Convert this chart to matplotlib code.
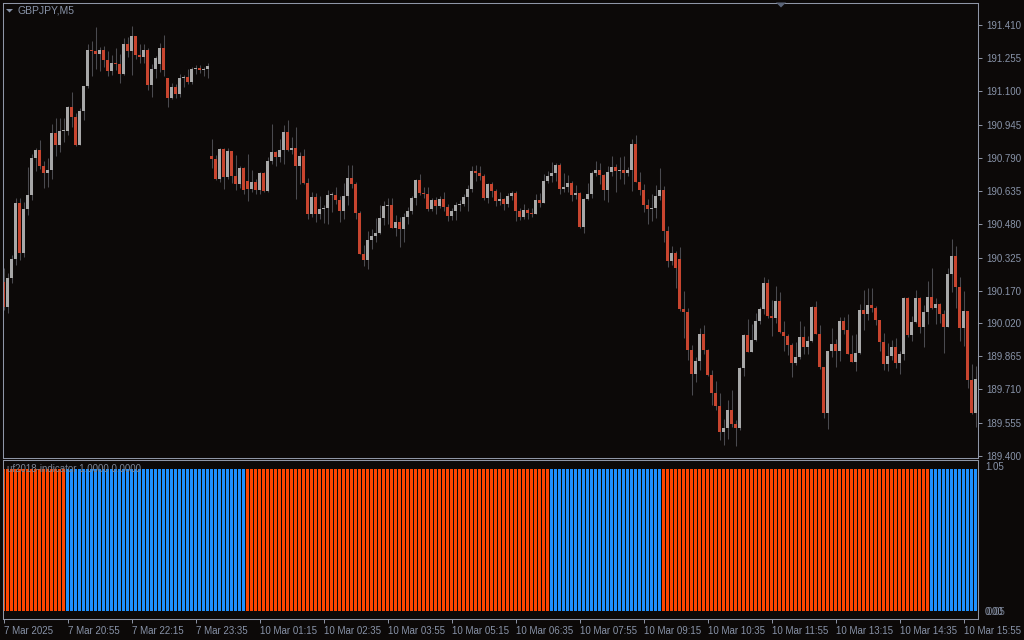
import numpy as np
import matplotlib.pyplot as plt
from matplotlib.patches import Polygon

plt.rcParams['font.family'] = ['Liberation Sans', 'DejaVu Sans']

# GBPJPY M5, 7 Mar 2025 19:35 -> 10 Mar 2025 16:10 (244 bars)
closes = [
    190.096, 190.230, 190.318, 190.580, 190.348, 190.552, 190.617, 190.790, 190.827, 190.752,
    190.720, 190.734, 190.906, 190.850, 190.916, 190.917, 191.028, 190.981, 190.850, 191.009,
    191.126, 191.294, 191.289, 191.275, 191.294, 191.247, 191.196, 191.233, 191.229, 191.182,
    191.322, 191.289, 191.359, 191.270, 191.261, 191.294, 191.130, 191.205, 191.256, 191.303,
    191.200, 191.070, 191.121, 191.088, 191.163, 191.168, 191.144, 191.205, 191.210, 191.200,
    191.205, 191.219, 190.785, 190.692, 190.832, 190.701, 190.822, 190.706, 190.668, 190.743,
    190.640, 190.645, 190.678, 190.640, 190.720, 190.636, 190.776, 190.818, 190.794, 190.827,
    190.911, 190.827, 190.836, 190.752, 190.799, 190.673, 190.528, 190.608, 190.528, 190.552,
    190.554, 190.617, 190.619, 190.594, 190.542, 190.612, 190.696, 190.668, 190.533, 190.342,
    190.314, 190.407, 190.426, 190.440, 190.510, 190.566, 190.570, 190.463, 190.491, 190.458,
    190.514, 190.542, 190.603, 190.687, 190.626, 190.622, 190.552, 190.594, 190.566, 190.598,
    190.561, 190.519, 190.542, 190.570, 190.575, 190.608, 190.645, 190.729, 190.720, 190.706,
    190.603, 190.668, 190.636, 190.589, 190.598, 190.575, 190.612, 190.626, 190.542, 190.514,
    190.547, 190.533, 190.529, 190.594, 190.580, 190.682, 190.706, 190.720, 190.757, 190.645,
    190.654, 190.673, 190.617, 190.626, 190.468, 190.598, 190.622, 190.720, 190.734, 190.710,
    190.640, 190.724, 190.748, 190.729, 190.734, 190.720, 190.734, 190.855, 190.678, 190.640,
    190.570, 190.552, 190.556, 190.612, 190.640, 190.449, 190.309, 190.346, 190.276, 190.085,
    190.071, 189.894, 189.782, 189.842, 189.968, 189.894, 189.777, 189.693, 189.632, 189.511,
    189.530, 189.614, 189.548, 189.530, 189.810, 189.964, 189.884, 189.940, 190.029, 190.085,
    190.206, 190.052, 190.043, 190.122, 189.978, 189.959, 189.917, 189.833, 189.861, 189.954,
    189.908, 189.936, 190.094, 189.968, 189.814, 189.600, 189.889, 189.922, 189.889, 190.029,
    189.987, 189.875, 189.838, 189.880, 190.080, 190.062, 190.104, 190.090, 190.034, 189.931,
    189.828, 189.866, 189.908, 189.833, 189.875, 190.136, 189.964, 190.024, 190.136, 190.001,
    190.071, 190.141, 190.090, 190.108, 190.062, 190.001, 190.248, 190.332, 190.188, 189.996,
    190.076, 189.754, 189.600, 189.758,
]
highs = [
    190.275, 190.252, 190.337, 190.602, 190.602, 190.586, 190.749, 190.807, 190.838, 190.874,
    190.776, 190.791, 190.948, 190.975, 190.975, 190.975, 191.032, 191.098, 190.998, 191.023,
    191.126, 191.322, 191.336, 191.401, 191.308, 191.312, 191.289, 191.270, 191.303, 191.275,
    191.350, 191.354, 191.406, 191.359, 191.322, 191.322, 191.303, 191.228, 191.266, 191.326,
    191.364, 191.163, 191.140, 191.135, 191.182, 191.177, 191.205, 191.214, 191.224, 191.224,
    191.214, 191.233, 190.878, 190.804, 190.836, 190.836, 190.836, 190.822, 190.804, 190.752,
    190.748, 190.808, 190.734, 190.692, 190.724, 190.724, 190.794, 190.948, 190.822, 190.878,
    190.944, 190.967, 190.888, 190.934, 190.818, 190.832, 190.696, 190.631, 190.626, 190.612,
    190.570, 190.640, 190.631, 190.654, 190.612, 190.673, 190.757, 190.757, 190.678, 190.542,
    190.384, 190.449, 190.458, 190.510, 190.570, 190.589, 190.603, 190.603, 190.524, 190.514,
    190.533, 190.561, 190.612, 190.692, 190.715, 190.654, 190.654, 190.603, 190.608, 190.612,
    190.631, 190.575, 190.556, 190.584, 190.594, 190.622, 190.664, 190.752, 190.757, 190.752,
    190.715, 190.673, 190.678, 190.645, 190.631, 190.603, 190.626, 190.636, 190.636, 190.556,
    190.575, 190.556, 190.556, 190.622, 190.626, 190.715, 190.729, 190.771, 190.766, 190.766,
    190.720, 190.710, 190.682, 190.664, 190.631, 190.603, 190.673, 190.729, 190.776, 190.766,
    190.715, 190.752, 190.799, 190.762, 190.794, 190.799, 190.748, 190.878, 190.897, 190.724,
    190.668, 190.598, 190.622, 190.664, 190.743, 190.659, 190.472, 190.379, 190.356, 190.374,
    190.169, 190.090, 189.917, 189.861, 189.996, 190.010, 189.898, 189.800, 189.749, 189.693,
    189.572, 189.660, 189.707, 189.567, 189.814, 189.968, 190.038, 190.015, 190.066, 190.094,
    190.234, 190.225, 190.127, 190.192, 190.164, 190.029, 189.968, 189.926, 189.931, 190.029,
    190.006, 189.959, 190.099, 190.122, 190.010, 189.810, 189.889, 189.996, 189.945, 190.048,
    190.048, 190.062, 189.964, 189.968, 190.108, 190.174, 190.183, 190.183, 190.099, 190.034,
    189.973, 189.926, 189.940, 189.950, 189.889, 190.141, 190.141, 190.052, 190.174, 190.141,
    190.104, 190.216, 190.276, 190.136, 190.113, 190.080, 190.276, 190.412, 190.379, 190.234,
    190.169, 190.057, 189.828, 189.819,
]
lows = [
    190.080, 190.068, 190.208, 190.290, 190.314, 190.329, 190.524, 190.594, 190.730, 190.737,
    190.651, 190.656, 190.693, 190.800, 190.819, 190.866, 190.897, 190.936, 190.846, 190.850,
    190.967, 191.116, 191.172, 191.205, 191.196, 191.214, 191.172, 191.177, 191.200, 191.140,
    191.177, 191.261, 191.177, 191.252, 191.233, 191.233, 191.107, 191.074, 191.163, 191.191,
    191.172, 191.028, 191.065, 191.070, 191.074, 191.121, 191.135, 191.135, 191.182, 191.186,
    191.172, 191.163, 190.743, 190.687, 190.678, 190.645, 190.692, 190.673, 190.640, 190.650,
    190.622, 190.589, 190.631, 190.622, 190.622, 190.631, 190.631, 190.762, 190.752, 190.771,
    190.762, 190.822, 190.808, 190.598, 190.668, 190.668, 190.505, 190.514, 190.491, 190.505,
    190.486, 190.482, 190.538, 190.575, 190.491, 190.505, 190.570, 190.650, 190.505, 190.342,
    190.286, 190.272, 190.365, 190.398, 190.435, 190.477, 190.482, 190.463, 190.426, 190.374,
    190.398, 190.482, 190.528, 190.570, 190.617, 190.603, 190.542, 190.542, 190.528, 190.556,
    190.542, 190.496, 190.500, 190.500, 190.542, 190.566, 190.542, 190.631, 190.682, 190.687,
    190.594, 190.580, 190.608, 190.566, 190.570, 190.547, 190.561, 190.594, 190.496, 190.500,
    190.505, 190.505, 190.514, 190.533, 190.561, 190.580, 190.673, 190.678, 190.682, 190.622,
    190.631, 190.631, 190.589, 190.598, 190.463, 190.440, 190.594, 190.603, 190.706, 190.668,
    190.594, 190.584, 190.706, 190.631, 190.692, 190.668, 190.706, 190.636, 190.678, 190.617,
    190.538, 190.482, 190.496, 190.510, 190.594, 190.398, 190.281, 190.290, 190.183, 190.076,
    189.950, 189.847, 189.684, 189.744, 189.800, 189.875, 189.772, 189.637, 189.614, 189.474,
    189.450, 189.478, 189.534, 189.446, 189.520, 189.772, 189.884, 189.884, 189.936, 190.015,
    190.062, 190.043, 189.959, 190.020, 189.973, 189.889, 189.870, 189.768, 189.824, 189.852,
    189.875, 189.875, 189.931, 189.968, 189.805, 189.576, 189.525, 189.861, 189.814, 189.842,
    189.968, 189.875, 189.838, 189.796, 189.875, 189.987, 190.034, 190.071, 190.010, 189.889,
    189.800, 189.796, 189.847, 189.810, 189.782, 189.847, 189.954, 189.936, 190.020, 189.973,
    189.908, 190.015, 190.085, 190.015, 190.020, 189.880, 190.015, 190.164, 190.090, 189.936,
    189.912, 189.716, 189.595, 189.534,
]
first_open = 190.211
# bars whose open does not equal the previous close (gaps)
gap_opens = {39: 191.228, 41: 191.163, 52: 190.799, 61: 190.682, 169: 190.318}

price_ticks = [191.410, 191.255, 191.100, 190.945, 190.790, 190.635, 190.480,
               190.325, 190.170, 190.020, 189.865, 189.710, 189.555, 189.400]
time_ticks = list(range(0, 244, 16))
time_labels = ['7 Mar 2025', '7 Mar 20:55', '7 Mar 22:15', '7 Mar 23:35',
               '10 Mar 01:15', '10 Mar 02:35', '10 Mar 03:55', '10 Mar 05:15',
               '10 Mar 06:35', '10 Mar 07:55', '10 Mar 09:15', '10 Mar 10:35',
               '10 Mar 11:55', '10 Mar 13:15', '10 Mar 14:35', '10 Mar 15:55']

# uf2018-indicator: runs of up / down signal
signal_states = ['up', 'down', 'up', 'down', 'up', 'down']
signal_lengths = [16, 45, 76, 28, 67, 12]

bg = '#0c0908'
frame = '#8f96a6'
txt = '#8893a8'
bull = '#a8a8a8'
bear = '#c8452f'
wick = '#4a4a4f'
up_col = '#ff4500'
dn_col = '#1e90ff'
fs = 7

closes = np.array(closes)
opens = np.r_[first_open, closes[:-1]]
for i, v in gap_opens.items():
    opens[i] = v
highs = np.maximum(np.array(highs), np.maximum(opens, closes))
lows = np.minimum(np.array(lows), np.minimum(opens, closes))
x = np.arange(len(closes))

fig = plt.figure(figsize=(10.24, 6.4), dpi=100, facecolor=bg)
ax = fig.add_axes([2.5 / 1024, 1 - 458 / 640, 975 / 1024, 455.5 / 640], facecolor=bg)
ax2 = fig.add_axes([2.5 / 1024, 1 - 619 / 640, 975 / 1024, 159 / 640], facecolor=bg)

# candles
ax.vlines(x, lows, highs, color=wick, lw=0.75, zorder=1)
body_col = np.where(closes >= opens, bull, bear)
body_h = np.maximum(np.abs(closes - opens), 0.004)
ax.bar(x, body_h, bottom=np.minimum(opens, closes), width=0.72,
       color=body_col, linewidth=0, zorder=2)

ax.set_xlim(-0.25, 243.5)
ax.set_ylim(189.3897, 191.5153)
ax.yaxis.tick_right()
ax.set_yticks(price_ticks)
ax.set_yticklabels([f'{p:.3f}' for p in price_ticks])
ax.tick_params(axis='y', direction='out', length=3, width=0.7, color=frame,
               labelcolor=txt, labelsize=fs, pad=3)
ax.set_xticks([])

# indicator histogram
sig = np.repeat(signal_states, signal_lengths)
ax2.bar(x, np.ones(len(x)), width=0.7, linewidth=0,
        color=np.where(sig == 'up', up_col, dn_col))
ax2.set_xlim(-0.25, 243.5)
ax2.set_ylim(-0.056, 1.063)
ax2.set_yticks([])
ax2.set_xticks(time_ticks)
ax2.set_xticklabels(time_labels, ha='left')
ax2.tick_params(axis='x', direction='out', length=3, width=0.7, color=frame,
                labelcolor=txt, labelsize=fs, pad=2)

for a in (ax, ax2):
    for s in a.spines.values():
        s.set_color(frame)
        s.set_linewidth(0.75)

fig.text(985 / 1024, 1 - 467 / 640, '1.05', color=txt, fontsize=fs, va='center')
fig.text(985 / 1024, 1 - 612 / 640, '0.00', color=txt, fontsize=fs, va='center')
fig.text(987 / 1024, 1 - 612 / 640, '0.05', color=txt, fontsize=fs, va='center', alpha=0.8)

fig.text(7 / 1024, 1 - 469 / 640, 'uf2018-indicator 1.0000 0.0000',
         color='#7c8596', fontsize=fs, va='center')

fig.text(18 / 1024, 1 - 10.5 / 640, 'GBPJPY,M5', color=txt, fontsize=fs + 0.5, va='center')
W, H = 1024, 640
tri = [(6, 9), (13, 9), (9.5, 12.5)]
fig.add_artist(Polygon([(a / W, 1 - b / H) for a, b in tri], closed=True,
                       transform=fig.transFigure, color=txt, lw=0))
shift = [(776, 2.5), (786, 2.5), (781, 7.5)]
fig.add_artist(Polygon([(a / W, 1 - b / H) for a, b in shift], closed=True,
                       transform=fig.transFigure, color='#5a6478', lw=0))

fig.savefig('out.png', dpi=100, facecolor=bg)
